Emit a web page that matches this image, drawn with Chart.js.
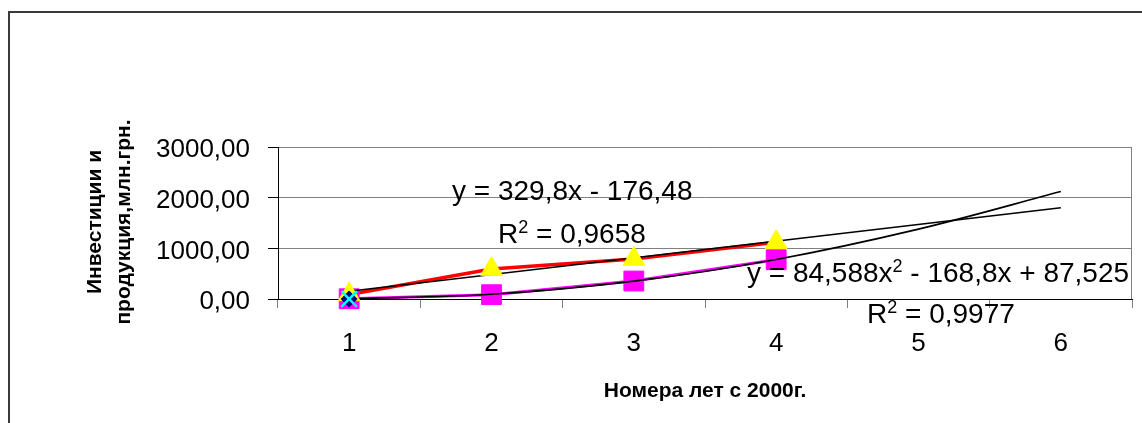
<!DOCTYPE html>
<html>
<head>
<meta charset="utf-8">
<script src="https://cdn.jsdelivr.net/npm/chart.js@4.4.0/dist/chart.umd.min.js"></script>
<style>
  html, body { margin: 0; padding: 0; background: #fff; overflow: hidden; }
  #wrap { position: relative; width: 1142px; height: 423px; }
</style>
</head>
<body>
<div id="wrap"><canvas id="chart"></canvas></div>
<script>
// данные
const years = ['1', '2', '3', '4', '5', '6'];
const yTickLabels = ['0,00', '1000,00', '2000,00', '3000,00'];
const productValues = [90, 590, 790, 1122, null, null]; // красная линия + жёлтые треугольники
const investValues = [5, 85, 355, 775, null, null];     // пурпурная линия + квадраты
const navyValues = [0, null, null, null, null, null];
const cyanValues = [0, null, null, null, null, null];
const linearTrend = [153, null, null, null, null, 1802];
const polyTrend = [3, 93, 352, 781, 1379, 2120];

const yTitle = ['Инвестиции и', 'продукция,млн.грн.'];
const xTitle = 'Номера лет с 2000г.';

const FONT = "'Liberation Sans', Arial, sans-serif";

// текст с верхним индексом: [[текст, sup?], ...]
function drawParts(ctx, parts, x, y) {
    parts.forEach(p => {
        if (p[1]) {
            ctx.font = '18px ' + FONT;
            ctx.fillText(p[0], x, y - 10);
        } else {
            ctx.font = '28px ' + FONT;
            ctx.fillText(p[0], x, y);
        }
        x += ctx.measureText(p[0]).width;
    });
}

const decorPlugin = {
    id: 'decor',
    beforeDraw(chart) {
        const ctx = chart.ctx;
        ctx.save();
        ctx.strokeStyle = '#3a3a3a';
        ctx.lineWidth = 2;
        ctx.beginPath();
        ctx.moveTo(9, 423);
        ctx.lineTo(9, 12);
        ctx.lineTo(1142, 12);
        ctx.stroke();
        ctx.restore();
    },
    beforeDatasetsDraw(chart) {
        const ctx = chart.ctx;
        const a = chart.chartArea;
        ctx.save();
        ctx.strokeStyle = '#808080';
        ctx.lineWidth = 1;
        ctx.beginPath();
        ctx.moveTo(a.right - 0.5, a.top);
        ctx.lineTo(a.right - 0.5, a.bottom);
        ctx.stroke();
        ctx.restore();
    },
    afterDraw(chart) {
        const ctx = chart.ctx;
        ctx.save();
        ctx.fillStyle = '#000';
        ctx.textAlign = 'left';
        ctx.textBaseline = 'alphabetic';
        drawParts(ctx, [['y = 329,8x - 176,48']], 452, 200);
        drawParts(ctx, [['R'], ['2', true], [' = 0,9658']], 498, 243);
        drawParts(ctx, [['y = 84,588x'], ['2', true], [' - 168,8x + 87,525']], 747, 282);
        drawParts(ctx, [['R'], ['2', true], [' = 0,9977']], 867, 323);

        // подписи осей
        ctx.font = 'bold 21px ' + FONT;
        ctx.textAlign = 'center';
        ctx.fillText(xTitle, 705, 397);

        ctx.translate(0, 222);
        ctx.rotate(-Math.PI / 2);
        ctx.textBaseline = 'middle';
        ctx.fillText(yTitle[0], 0, 95);
        ctx.fillText(yTitle[1], 0, 124);
        ctx.restore();
    }
};

const chart = new Chart(document.getElementById('chart'), {
    type: 'line',
    data: {
        labels: years,
        datasets: [
            {
                data: cyanValues, showLine: false, clip: false,
                pointStyle: 'crossRot', pointRadius: 11,
                pointBorderColor: '#00FFFF', pointBorderWidth: 2.5
            },
            {
                data: navyValues, showLine: false, clip: false,
                pointStyle: 'rectRot', pointRadius: 8,
                pointBackgroundColor: '#000080', pointBorderColor: '#000080', pointBorderWidth: 1
            },
            {
                data: productValues, showLine: false, clip: false,
                pointStyle: 'triangle', pointRadius: 12.5,
                pointBackgroundColor: '#FFFF00', pointBorderColor: '#FFFF00', pointBorderWidth: 1
            },
            {
                data: linearTrend, spanGaps: true, pointRadius: 0,
                borderColor: '#000', borderWidth: 1.6, tension: 0
            },
            {
                data: polyTrend, pointRadius: 0, cubicInterpolationMode: 'monotone',
                borderColor: '#000', borderWidth: 1.6
            },
            {
                data: investValues, showLine: false, clip: false,
                pointStyle: 'rect', pointRadius: 14,
                pointBackgroundColor: '#FF00FF', pointBorderColor: '#FF00FF', pointBorderWidth: 1
            },
            {
                data: productValues, pointRadius: 0,
                borderColor: '#FF0000', borderWidth: 3.5, tension: 0
            },
            {
                data: investValues, pointRadius: 0,
                borderColor: '#FF00FF', borderWidth: 3, tension: 0
            }
        ]
    },
    options: {
        animation: false,
        responsive: true,
        maintainAspectRatio: false,
        layout: { autoPadding: false, padding: { top: 147, right: 10, left: 0, bottom: 0 } },
        plugins: {
            legend: { display: false },
            tooltip: { enabled: false }
        },
        scales: {
            x: {
                offset: true,
                grid: {
                    offset: true, drawOnChartArea: false, drawTicks: true,
                    tickLength: 9, color: '#808080'
                },
                border: { display: true, color: '#000', width: 1 },
                ticks: {
                    color: '#000', padding: 20, maxRotation: 0,
                    font: { family: FONT, size: 26 }
                },
                afterFit: s => {
                    s.height = 124;
                    s.paddingLeft = 0;
                    s.paddingRight = 0;
                }
            },
            y: {
                min: 0, max: 3000,
                grid: { color: '#808080', tickColor: '#000', tickLength: 10 },
                border: { display: true, color: '#000', width: 1 },
                ticks: {
                    stepSize: 1000, color: '#000', padding: 18, labelOffset: 3,
                    font: { family: FONT, size: 26 },
                    callback: (v, i) => yTickLabels[i]
                },
                afterFit: s => { s.width = 278; }
            }
        }
    },
    plugins: [decorPlugin]
});
</script>
</body>
</html>
